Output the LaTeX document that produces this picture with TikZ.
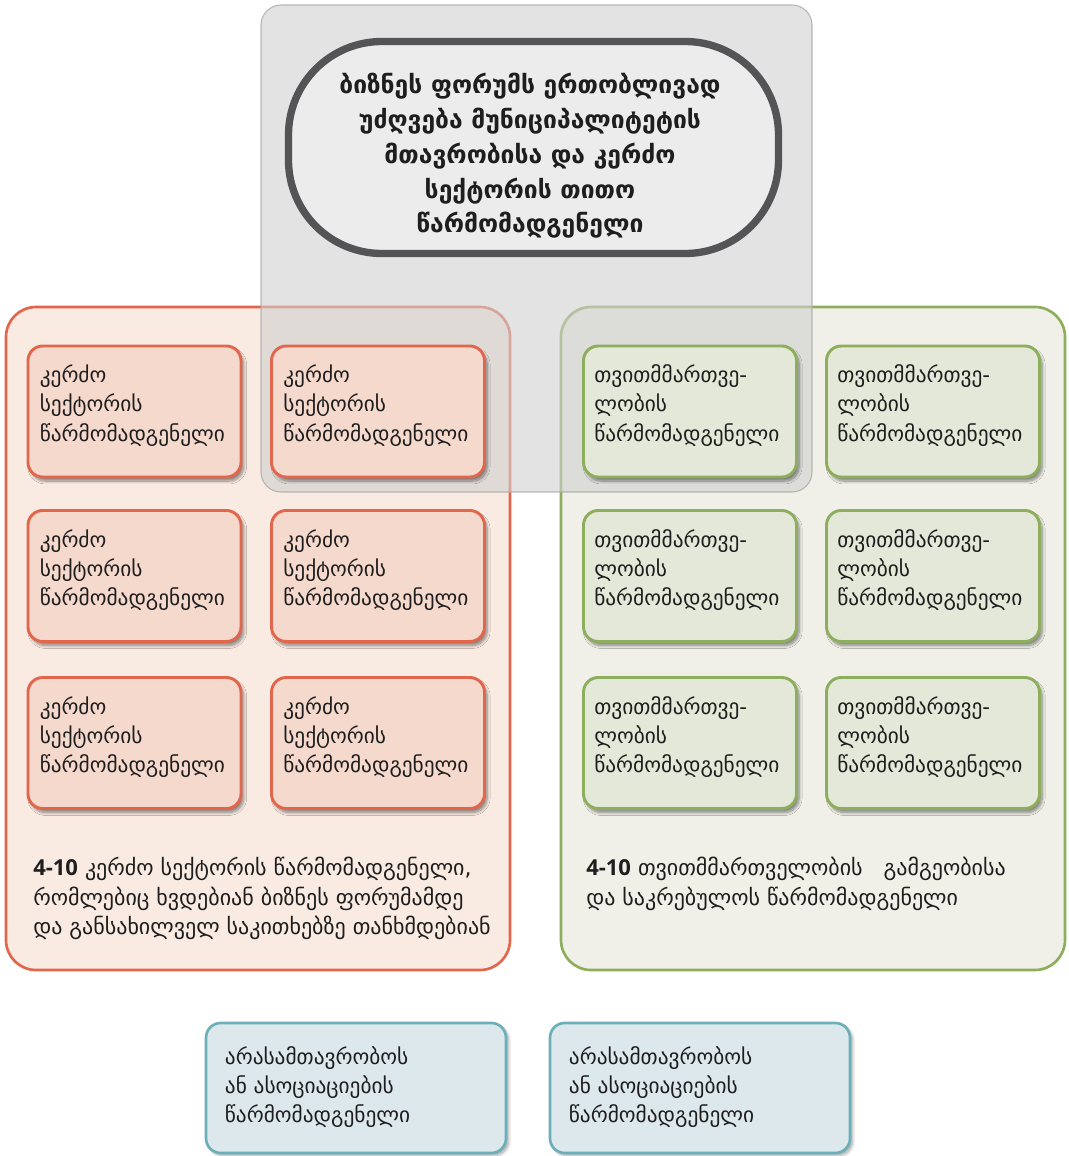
\documentclass[tikz,border=0pt]{standalone}
\usepackage{fontspec}
\setmainfont{DejaVu Sans}
\newfontfamily\numfont{Open Sans}
\usetikzlibrary{shadows.blur,calc}
\definecolor{oline}{HTML}{E2664C}
\definecolor{opanel}{HTML}{FAEBE2}
\definecolor{obox}{HTML}{F6D9CD}
\definecolor{gline}{HTML}{8DAE5C}
\definecolor{gpanel}{HTML}{F0F0E8}
\definecolor{gbox}{HTML}{E4E8D8}
\definecolor{bline}{HTML}{6BAFB9}
\definecolor{bbox}{HTML}{DDE8EC}
\definecolor{grect}{HTML}{D0D0D0}
\definecolor{grectline}{HTML}{A8A8A8}
\definecolor{tfill}{HTML}{ECECEC}
\definecolor{tdark}{HTML}{909090}
\definecolor{tline}{HTML}{545456}
\definecolor{txt}{HTML}{1E1E1E}
\pgfdeclareverticalshading{titlesh}{100bp}{color(0bp)=(tfill); color(78bp)=(tfill); color(100bp)=(tdark)}
\begin{document}
\begin{tikzpicture}[x=0.75pt,y=-0.75pt,
  panelbox/.style={rounded corners=22.5pt, line width=2pt, inner sep=0pt, minimum width=504*0.75pt, minimum height=663*0.75pt},
  smallbox/.style={rounded corners=11pt, line width=2.2pt, inner sep=0pt, minimum width=213*0.75pt, minimum height=131*0.75pt,
     blur shadow={shadow xshift=2pt, shadow yshift=-3pt, shadow blur steps=8, shadow opacity=45}},
  orbox/.style={smallbox, draw=oline, fill=obox},
  grbox/.style={smallbox, draw=gline, fill=gbox},
  blbox/.style={rounded corners=11pt, line width=2pt, inner sep=0pt, draw=bline, fill=bbox, minimum width=300*0.75pt, minimum height=130*0.75pt,
     blur shadow={shadow xshift=2pt, shadow yshift=-2pt, shadow blur steps=6, shadow opacity=35}},
  btext/.style={anchor=west, align=left, inner sep=0pt, text=txt, font=\fontsize{16}{21.9}\selectfont},
  ptext/.style={anchor=north west, align=left, inner sep=0pt, text=txt, font=\fontsize{16.5}{22.2}\selectfont},
  ]
\useasboundingbox (0,0) rectangle (1068,1156);
% panels
\node[panelbox, draw=oline, fill=opanel] (op) at (258,638.5) {};
\node[panelbox, draw=gline, fill=gpanel] (gp) at (813,638.5) {};
% gray translucent rect
\node[rounded corners=15pt, draw=grectline, line width=0.8pt, fill=grect, fill opacity=0.6, draw opacity=0.8,
  minimum width=551*0.75pt, minimum height=487*0.75pt, inner sep=0pt] (gr) at (536.5,248.5) {};
% title
\node[shade, shading=titlesh, draw=tline, line width=5.5pt, rounded corners=70pt,
  minimum width=490*0.75pt, minimum height=212*0.75pt, inner sep=0pt] (title) at (533.5,147.5) {};
\node[align=center, text=txt, inner sep=0pt, font=\bfseries\fontsize{18.5}{26.1}\selectfont] (titletext) at (530,156)
  {ბიზნეს ფორუმს ერთობლივად\\უძღვება მუნიციპალიტეტის\\მთავრობისა და კერძო\\სექტორის თითო\\წარმომადგენელი};
% orange boxes
\foreach \n/\x/\y in {o1/134.5/411.5, o2/378/411.5, o3/134.5/576, o4/378/576, o5/134.5/743, o6/378/743}{
  \node[orbox] (\n) at (\x,\y) {};
  \node[btext] (\n t) at ($(\n.west)+(13,-6)$) {კერძო\\სექტორის\\წარმომადგენელი};
}
% green boxes
\foreach \n/\x/\y in {g1/690/411.5, g2/933/411.5, g3/690/576, g4/933/576, g5/690/743, g6/933/743}{
  \node[grbox] (\n) at (\x,\y) {};
  \node[btext] (\n t) at ($(\n.west)+(12,-6)$) {თვითმმართვე-\\ლობის\\წარმომადგენელი};
}
% panel texts
\node[ptext] (ot) at (33,857) {{\numfont\bfseries 4-10} კერძო სექტორის წარმომადგენელი,\\რომლებიც ხვდებიან ბიზნეს ფორუმამდე\\და განსახილველ საკითხებზე თანხმდებიან};
\node[ptext] (gt) at (586,857) {{\numfont\bfseries 4-10} თვითმმართველობის~~ გამგეობისა\\და საკრებულოს წარმომადგენელი};
% blue boxes
\foreach \n/\x in {b1/356, b2/700}{
  \node[blbox] (\n) at (\x,1088) {};
  \node[btext] (\n t) at ($(\n.west)+(20,-1)$) {არასამთავრობოს\\ან ასოციაციების\\წარმომადგენელი};
}
\end{tikzpicture}
\end{document}
